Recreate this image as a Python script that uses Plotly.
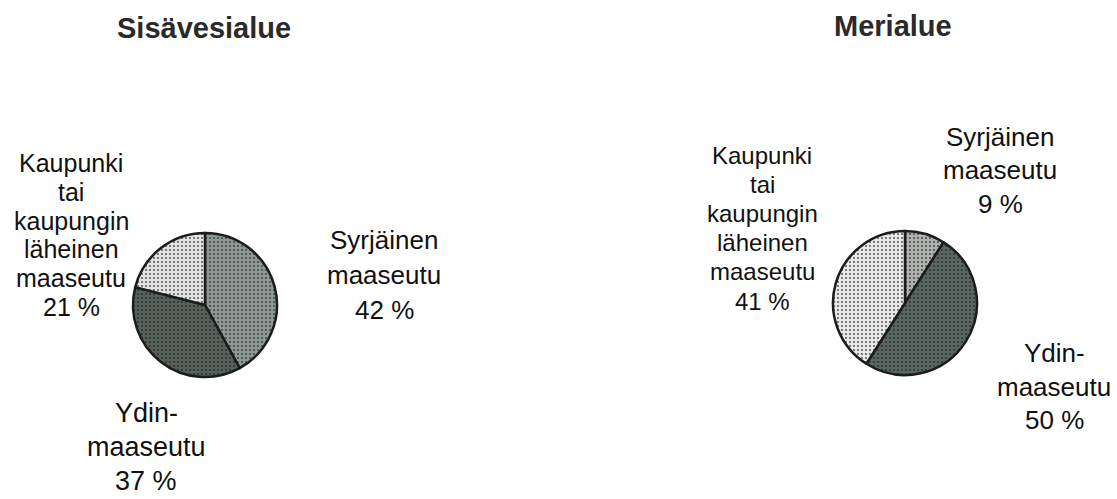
import plotly.graph_objects as go

W, H = 1117, 499

# ---- data ----
categories = ["Syrjäinen maaseutu", "Ydinmaaseutu", "Kaupunki tai kaupungin läheinen maaseutu"]
sisavesi_values = [42, 37, 21]
meri_values = [9, 50, 41]
titles = ["Sisävesialue", "Merialue"]

# label texts (line-broken as in the original)
sisavesi_label_lines = [
    ["Syrjäinen", "maaseutu", "{} %"],
    ["Ydin-", "maaseutu", "{} %"],
    ["Kaupunki", "tai", "kaupungin", "läheinen", "maaseutu", "{} %"],
]
meri_label_lines = [
    ["Syrjäinen", "maaseutu", "{} %"],
    ["Ydin-", "maaseutu", "{} %"],
    ["Kaupunki", "tai", "kaupungin", "läheinen", "maaseutu", "{} %"],
]

# ---- layout / style (pixels) ----
pie_geom = [  # center x, center y, radius
    (205, 305, 72),
    (905, 303, 72),
]
sisavesi_colors = ["#8e9894", "#56615c", "#e2e2e2"]
sisavesi_dots = ["#3f4744", "#2a302d", "#555555"]
meri_colors = ["#b0b2b0", "#5a6661", "#e8e8e8"]
meri_dots = ["#444444", "#2c3430", "#555555"]
sisavesi_label_pos = [  # x center, first line center y, line step, font size
    (384, 240, 35, 26),
    (146, 413, 34, 27),
    (71, 163, 28.8, 25),
]
meri_label_pos = [
    (1000, 137, 33.5, 26),
    (1054, 353, 33.5, 26),
    (762, 155, 29.2, 24),
]
title_pos = [(204, 28), (893, 26)]

fig = go.Figure()


def px_domain(cx, cy, r):
    return dict(
        x=[(cx - r) / W, (cx + r) / W],
        y=[(H - cy - r) / H, (H - cy + r) / H],
    )


for (cx, cy, r), vals, cols, dots in zip(pie_geom, [sisavesi_values, meri_values],
                                         [sisavesi_colors, meri_colors],
                                         [sisavesi_dots, meri_dots]):
    fig.add_trace(go.Pie(
        labels=categories,
        values=vals,
        sort=False,
        direction="clockwise",
        rotation=0,
        textinfo="none",
        hoverinfo="label+percent",
        marker=dict(
            colors=cols,
            line=dict(color="#1c1c1c", width=2.5),
            pattern=dict(shape=".", size=4, solidity=0.2,
                         fgcolor=dots, bgcolor=cols, fillmode="replace"),
        ),
        domain=px_domain(cx, cy, r),
        showlegend=False,
    ))

annotations = []
for (tx, ty), t in zip(title_pos, titles):
    annotations.append(dict(
        x=tx / W, y=1 - ty / H, xref="paper", yref="paper",
        text=t, showarrow=False, xanchor="center", yanchor="middle",
        font=dict(family="Liberation Sans, Arial", size=29, color="#2a2a2a", weight="bold"),
    ))

for lines_set, pos_set, vals in [
    (sisavesi_label_lines, sisavesi_label_pos, sisavesi_values),
    (meri_label_lines, meri_label_pos, meri_values),
]:
    for lines, (lx, ly, step, fs), v in zip(lines_set, pos_set, vals):
        for i, line in enumerate(lines):
            annotations.append(dict(
                x=lx / W, y=1 - (ly + i * step) / H, xref="paper", yref="paper",
                text=line.format(v), showarrow=False,
                xanchor="center", yanchor="middle",
                font=dict(family="Liberation Sans, Arial", size=fs, color="#111111"),
            ))

fig.update_layout(
    width=W, height=H,
    margin=dict(l=0, r=0, t=0, b=0),
    paper_bgcolor="white",
    plot_bgcolor="white",
    annotations=annotations,
)

fig.write_html("out.html")
